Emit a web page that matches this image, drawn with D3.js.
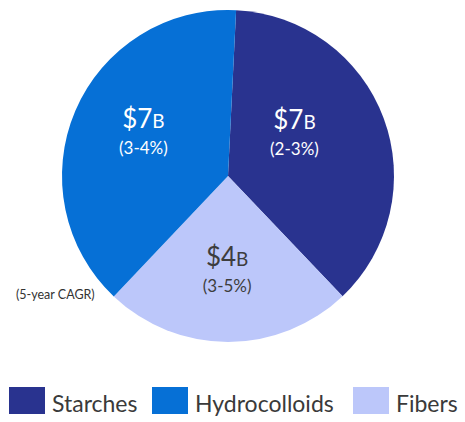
<!DOCTYPE html>
<html>
<head>
<meta charset="utf-8">
<script src="https://cdn.jsdelivr.net/npm/d3@7"></script>
<style>
  html, body { margin: 0; padding: 0; background: #fff; }
  svg { display: block; font-family: Lato, "Open Sans", sans-serif; }
</style>
</head>
<body>
<svg id="chart" width="465" height="422"></svg>
<script>
// ---- data ----
const categories = ["Starches", "Fibers", "Hydrocolloids"];
const shares = [37.1, 24.2, 38.7];          // slice share, % of pie (as drawn)
const marketSize = ["$7", "$4", "$7"];      // market size labels
const sizeUnit = ["B", "B", "B"];
const cagr = ["(2-3%)", "(3-5%)", "(3-4%)"];
const legendOrder = ["Starches", "Hydrocolloids", "Fibers"];
const colors = { "Starches": "#29338f", "Hydrocolloids": "#0670d6", "Fibers": "#bcc7fa" };
const textColors = { "Starches": "#ffffff", "Hydrocolloids": "#ffffff", "Fibers": "#3d3d3d" };
const footnote = "(5-year CAGR)";

const svg = d3.select("#chart");
const cx = 228, cy = 176, r = 166;
const startDeg = 2.8;

const data = categories.map((c, i) => ({ cat: c, share: shares[i], size: marketSize[i], unit: sizeUnit[i], cagr: cagr[i] }));

const pie = d3.pie().sort(null).value(d => d.share)
  .startAngle(startDeg * Math.PI / 180)
  .endAngle(startDeg * Math.PI / 180 + 2 * Math.PI);
const arc = d3.arc().innerRadius(0).outerRadius(r);

const g = svg.append("g").attr("transform", `translate(${cx},${cy})`);
const arcs = pie(data);
g.selectAll("path").data(arcs).join("path")
  .attr("d", arc)
  .attr("fill", d => colors[d.data.cat]);

// label positions: radial placement with small nudges
const labelArc = d3.arc().innerRadius(r * 0.62).outerRadius(r * 0.62);
const labelNudge = { "Starches": [-30, -3], "Fibers": [-1, -5], "Hydrocolloids": [10, 0] };
const lab = g.selectAll("g.lab").data(arcs).join("g").attr("class", "lab")
  .attr("transform", d => {
    const [x, y] = labelArc.centroid(d);
    const [nx, ny] = labelNudge[d.data.cat];
    return `translate(${x + nx},${y + ny})`;
  });
lab.append("text")
  .attr("text-anchor", "middle")
  .attr("y", -8)
  .attr("fill", d => textColors[d.data.cat])
  .style("font-size", "26px")
  .call(t => {
    t.append("tspan").text(d => d.data.size);
    t.append("tspan").style("font-size", "19px").text(d => d.data.unit);
  });
lab.append("text")
  .attr("text-anchor", "middle")
  .attr("y", 18)
  .attr("fill", d => textColors[d.data.cat])
  .style("font-size", "17px")
  .text(d => d.data.cagr);

svg.append("text")
  .attr("x", 16).attr("y", 299)
  .attr("fill", "#333")
  .style("font-size", "12.5px")
  .text(footnote);

// legend
const legendX = [9, 152, 353];
const leg = svg.selectAll("g.leg").data(legendOrder).join("g").attr("class", "leg")
  .attr("transform", (d, i) => `translate(${legendX[i]},387)`);
leg.append("rect").attr("width", 36).attr("height", 27).attr("fill", d => colors[d]);
leg.append("text").attr("x", 43).attr("y", 25)
  .attr("fill", "#3a3a3a")
  .style("font-size", "23px")
  .text(d => d);
</script>
</body>
</html>
